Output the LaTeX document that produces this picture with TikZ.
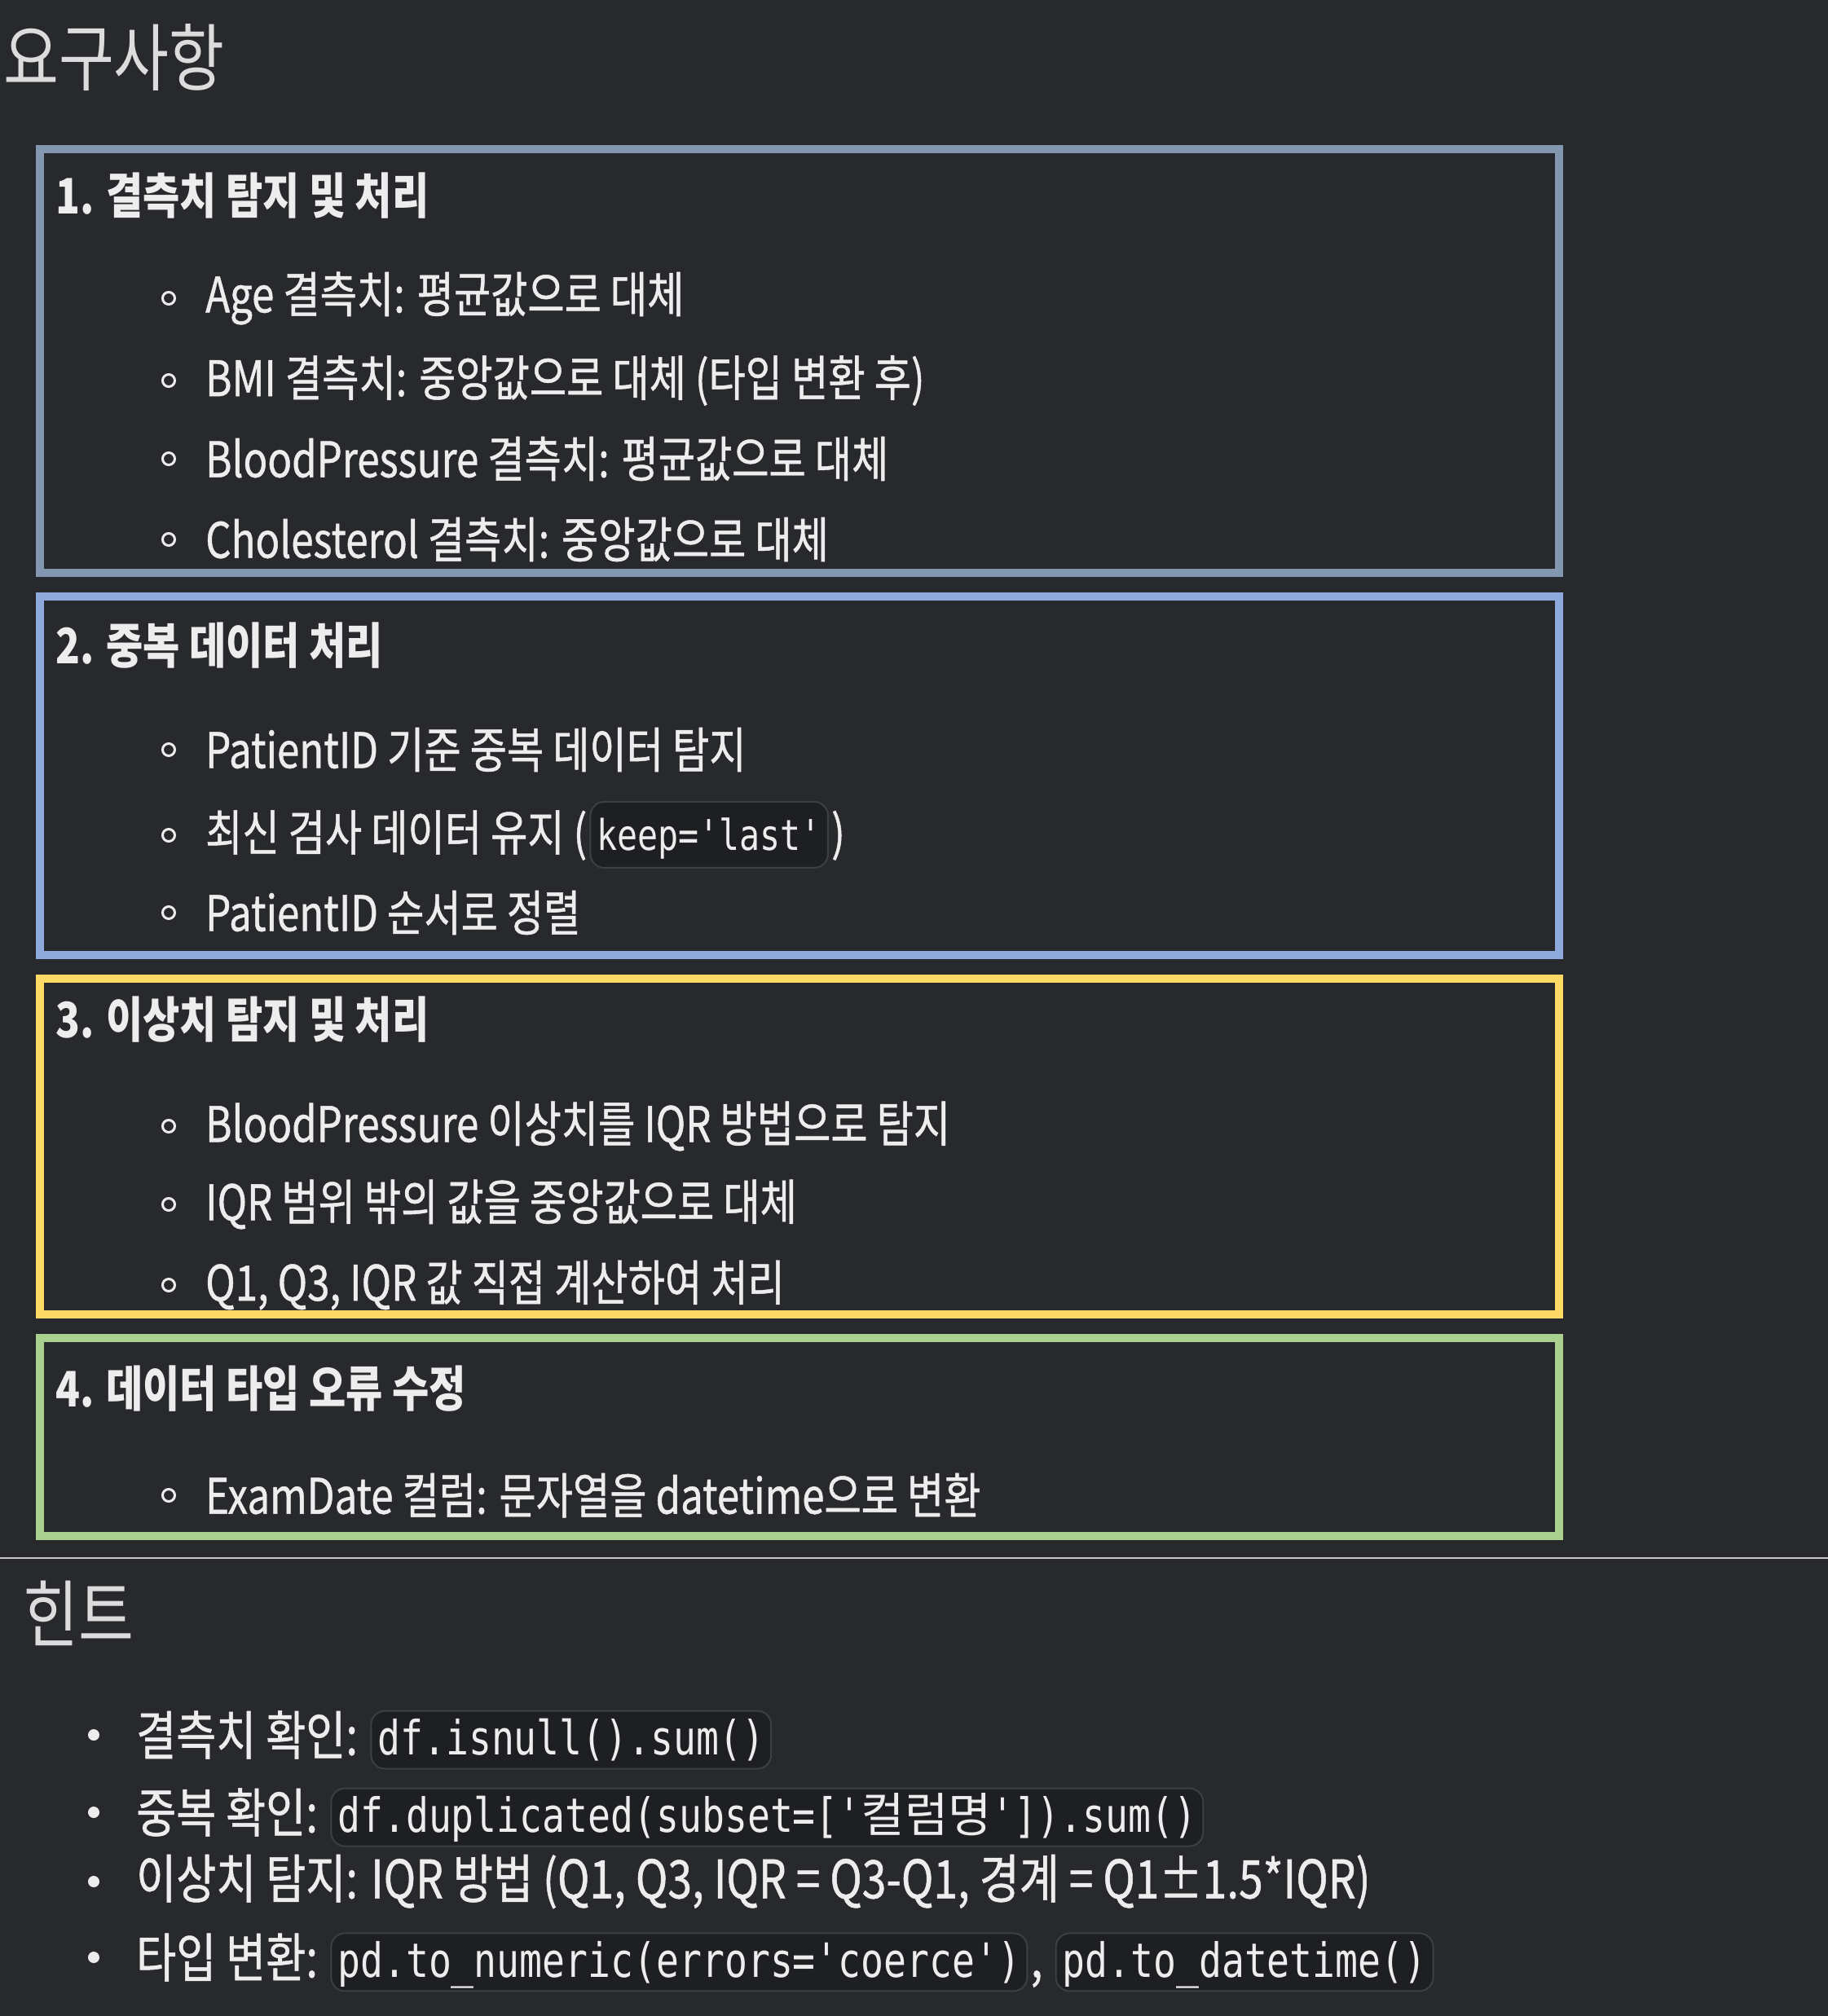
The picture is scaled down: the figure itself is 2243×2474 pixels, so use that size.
\documentclass[tikz,border=0pt]{standalone}
\usepackage{fontspec}
\setmainfont{Noto Sans CJK KR}[FakeStretch=0.82]
\newfontfamily\itemfont{Noto Sans CJK KR}[FakeStretch=0.82, FakeBold=0.8]
\setmonofont{DejaVu Sans Mono}[FakeStretch=0.8]
\newfontfamily\codecjk{Noto Sans CJK KR}
\newcommand{\usc}{\char"5F\relax}
\definecolor{bg}{HTML}{28292C}
\definecolor{fg}{HTML}{EDEDED}
\definecolor{ttlc}{HTML}{DCDCDC}
\definecolor{cA}{HTML}{8497B0}
\definecolor{cB}{HTML}{8EA9DB}
\definecolor{cC}{HTML}{FFD966}
\definecolor{cD}{HTML}{A9D08E}
\definecolor{codef}{HTML}{1E1F22}
\definecolor{codeb}{HTML}{3E3F43}
\definecolor{sep}{HTML}{C8C8C8}
\begin{document}
\begin{tikzpicture}[x=1pt,y=-1pt,
  txt/.style={anchor=west, inner sep=0pt, text=fg, font=\fontsize{60}{72}\itemfont},
  head/.style={anchor=west, inner sep=0pt, text=fg, font=\fontsize{60}{72}\selectfont\bfseries},
  ttl/.style={anchor=west, inner sep=0pt, text=ttlc, font=\fontsize{90}{104}\selectfont},
  htxt/.style={anchor=west, inner sep=0pt, text=fg, font=\fontsize{65}{78}\itemfont},
  ring/.style={circle, draw=fg, line width=3pt, minimum size=15pt, inner sep=0pt},
  hdot/.style={circle, fill=fg, minimum size=14pt, inner sep=0pt},
  codebox/.style={draw=codeb, fill=codef, line width=2pt, rounded corners=17pt, inner xsep=8pt, text=fg, anchor=base west},
  icode/.style={codebox, font=\fontsize{52}{60}\ttfamily, text height=49pt, text depth=10pt, inner ysep=11pt},
  hcode/.style={codebox, font=\fontsize{58}{66}\ttfamily, text height=45pt, text depth=8pt, inner ysep=9pt},
  frame/.style={line width=10pt}
]
\useasboundingbox (0,0) rectangle (2243,2474);
\fill[bg] (0,0) rectangle (2243,2474);

\node[ttl] (title) at (4,71) {요구사항};

% box 1
\node[head] (h1) at (68,240) {1. 결측치 탐지 및 처리};
\node[ring] (b11) at (207,366) {}; \node[txt] (t11) at (252,366) {Age 결측치: 평균값으로 대체};
\node[ring] (b12) at (207,467) {}; \node[txt] (t12) at (252,467) {BMI 결측치: 중앙값으로 대체 (타입 변환 후)};
\node[ring] (b13) at (207,563) {}; \node[txt] (t13) at (252,563) {BloodPressure 결측치: 평균값으로 대체};
\node[ring] (b14) at (207,662) {}; \node[txt] (t14) at (252,662) {Cholesterol 결측치: 중앙값으로 대체};
\draw[frame, cA] (49,183) rectangle (1913,703);

% box 2
\node[head] (h2) at (68,792) {2. 중복 데이터 처리};
\node[ring] (b21) at (207,920) {}; \node[txt] (t21) at (252,920) {PatientID 기준 중복 데이터 탐지};
\node[ring] (b22) at (207,1025) {}; \node[txt] (t22) at (252,1025) {최신 검사 데이터 유지 (};
\node[icode] (k22) at ([xshift=3pt]t22.base east) {keep='last'};
\node[txt, anchor=base west] (p22) at ([xshift=3pt]k22.base east) {)};
\node[ring] (b23) at (207,1120) {}; \node[txt] (t23) at (252,1120) {PatientID 순서로 정렬};
\draw[frame, cB] (49,732) rectangle (1913,1172);

% box 3
\node[head] (h3) at (68,1251) {3. 이상치 탐지 및 처리};
\node[ring] (b31) at (207,1382) {}; \node[txt] (t31) at (252,1382) {BloodPressure 이상치를 IQR 방법으로 탐지};
\node[ring] (b32) at (207,1478) {}; \node[txt] (t32) at (252,1478) {IQR 범위 밖의 값을 중앙값으로 대체};
\node[ring] (b33) at (207,1577) {}; \node[txt] (t33) at (252,1577) {Q1, Q3, IQR 값 직접 계산하여 처리};
\draw[frame, cC] (49,1201) rectangle (1913,1613);

% box 4
\node[head] (h4) at (68,1704) {4. 데이터 타입 오류 수정};
\node[ring] (b41) at (207,1835) {}; \node[txt] (t41) at (252,1835) {ExamDate 컬럼: 문자열을 datetime으로 변환};
\draw[frame, cD] (49,1642) rectangle (1913,1885);

% separator
\coordinate (sl) at (0,1912); \coordinate (sr) at (2243,1912);
\draw[sep, line width=2pt] (sl) -- (sr);

% hints
\node[ttl] (hint) at (28,1980) {힌트};
\node[hdot] (d1) at (115,2129) {}; \node[htxt] (q1) at (167,2129) {결측치 확인:};
\node[hcode] (c1) at ([xshift=15pt]q1.base east) {df.isnull().sum()};
\node[hdot] (d2) at (115,2224) {}; \node[htxt] (q2) at (167,2224) {중복 확인:};
\node[hcode] (c2) at ([xshift=15pt]q2.base east) {df.duplicated(subset=['{\codecjk 컬럼명}']).sum()};
\node[hdot] (d3) at (115,2309) {}; \node[htxt] (q3) at (167,2309) {이상치 탐지: IQR 방법 (Q1, Q3, IQR = Q3-Q1, 경계 = Q1±1.5*IQR)};
\node[hdot] (d4) at (115,2402) {}; \node[htxt] (q4) at (167,2402) {타입 변환:};
\node[hcode] (c4a) at ([xshift=15pt]q4.base east) {pd.to\usc numeric(errors='coerce')};
\node[htxt, anchor=base west] (m4) at ([xshift=3pt]c4a.base east) {,};
\node[hcode] (c4b) at ([xshift=15pt]m4.base east) {pd.to\usc datetime()};
\end{tikzpicture}
\end{document}
